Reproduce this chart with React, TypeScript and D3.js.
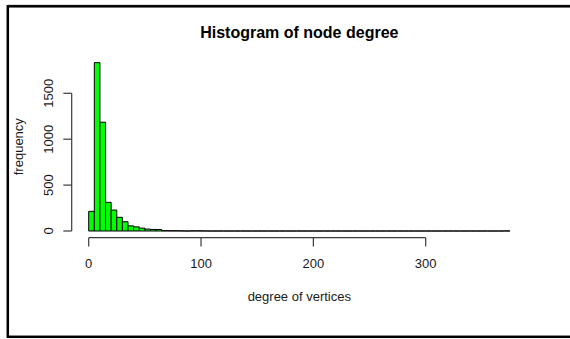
import React from "react";
import * as d3 from "d3";

const binWidth = 5;
const binStarts = [
  0, 5, 10, 15, 20, 25, 30, 35, 40, 45, 50, 55, 60, 65, 70, 75, 80, 85, 90, 95,
  100, 105, 110, 115, 120, 125, 130, 135, 140, 145, 150, 155, 160, 165, 170, 175, 180, 185, 190, 195,
  200, 205, 210, 215, 220, 225, 230, 235, 240, 245, 250, 255, 260, 265, 270, 275, 280, 285, 290, 295,
  300, 305, 310, 315, 320, 325, 330, 335, 340, 345, 350, 355, 360, 365, 370,
];
const counts = [
  214, 1834, 1185, 312, 228, 149, 101, 56, 45, 31, 21, 17, 16, 4, 3, 3, 2, 0, 2, 2,
  1, 0, 0, 0, 0, 0, 0, 0, 0, 0, 0, 0, 0, 0, 0, 0, 0, 0, 0, 0,
  0, 0, 0, 0, 0, 0, 0, 0, 0, 0, 0, 0, 0, 0, 0, 0, 0, 0, 0, 0,
  0, 0, 0, 0, 0, 0, 0, 0, 0, 0, 0, 0, 0, 0, 1,
];
const xTicks = [0, 100, 200, 300];
const yTicks = [0, 500, 1000, 1500];
const title = "Histogram of node degree";
const xLabel = "degree of vertices";
const yLabel = "frequency";

const W = 570;
const H = 339;
const FONT = "'Liberation Sans', Arial, sans-serif";

export default function App() {
  const x = d3.scaleLinear().domain([0, 300]).range([88.7, 425.7]);
  const y = d3.scaleLinear().domain([0, 1500]).range([231, 93.3]);
  const axisY = 237.7;
  const axisX = 71.7;
  const axisColor = "#3a3a3a";
  const textColor = "#1a1a1a";

  const barPath = (s: number, c: number) => {
    const p = d3.path();
    const x0 = x(s);
    const x1 = x(s + binWidth);
    const y0 = y(0);
    const y1 = y(c);
    p.moveTo(x0, y0);
    p.lineTo(x0, y1);
    p.lineTo(x1, y1);
    p.lineTo(x1, y0);
    p.closePath();
    return p.toString();
  };

  return (
    <svg
      width={W}
      height={H}
      style={{ position: "absolute", left: 0, top: 0, background: "#fff" }}
    >
      <rect x={0} y={0} width={W} height={H} fill="#fff" />
      {/* frame */}
      <line x1={7.8} y1={5} x2={W + 10} y2={5} stroke="#bbb" strokeWidth={1} />
      <rect x={7.8} y={6.3} width={W + 20} height={330.5} fill="none" stroke="#000" strokeWidth={2.5} />

      {/* title */}
      <text x={299.3} y={38.3} textAnchor="middle" fontFamily={FONT} fontWeight="bold" fontSize={16} fill="#000">
        {title}
      </text>

      {/* bars */}
      {counts.map((c, i) => (
        <path
          key={i}
          d={barPath(binStarts[i], c)}
          fill="#00FF00"
          stroke="#000"
          strokeWidth={1}
        />
      ))}

      {/* x axis */}
      <line x1={x(xTicks[0])} y1={axisY} x2={x(xTicks[xTicks.length - 1])} y2={axisY} stroke={axisColor} strokeWidth={1.2} />
      {xTicks.map((t) => (
        <g key={t}>
          <line x1={x(t)} y1={axisY} x2={x(t)} y2={246.5} stroke={axisColor} strokeWidth={1.2} />
          <text x={x(t)} y={268} textAnchor="middle" fontFamily={FONT} fontSize={13} fill={textColor}>
            {t}
          </text>
        </g>
      ))}

      {/* y axis */}
      <line x1={axisX} y1={y(yTicks[0])} x2={axisX} y2={y(yTicks[yTicks.length - 1])} stroke={axisColor} strokeWidth={1.2} />
      {yTicks.map((t) => (
        <g key={t}>
          <line x1={63.3} y1={y(t)} x2={axisX} y2={y(t)} stroke={axisColor} strokeWidth={1.2} />
          <text
            transform={`translate(53,${y(t)}) rotate(-90)`}
            textAnchor="middle"
            fontFamily={FONT}
            fontSize={13}
            fill={textColor}
          >
            {t}
          </text>
        </g>
      ))}

      {/* axis labels */}
      <text x={299.3} y={301} textAnchor="middle" fontFamily={FONT} fontSize={13} fill={textColor}>
        {xLabel}
      </text>
      <text
        transform={`translate(22.5,146.7) rotate(-90)`}
        textAnchor="middle"
        fontFamily={FONT}
        fontSize={13}
        fill={textColor}
      >
        {yLabel}
      </text>
    </svg>
  );
}
